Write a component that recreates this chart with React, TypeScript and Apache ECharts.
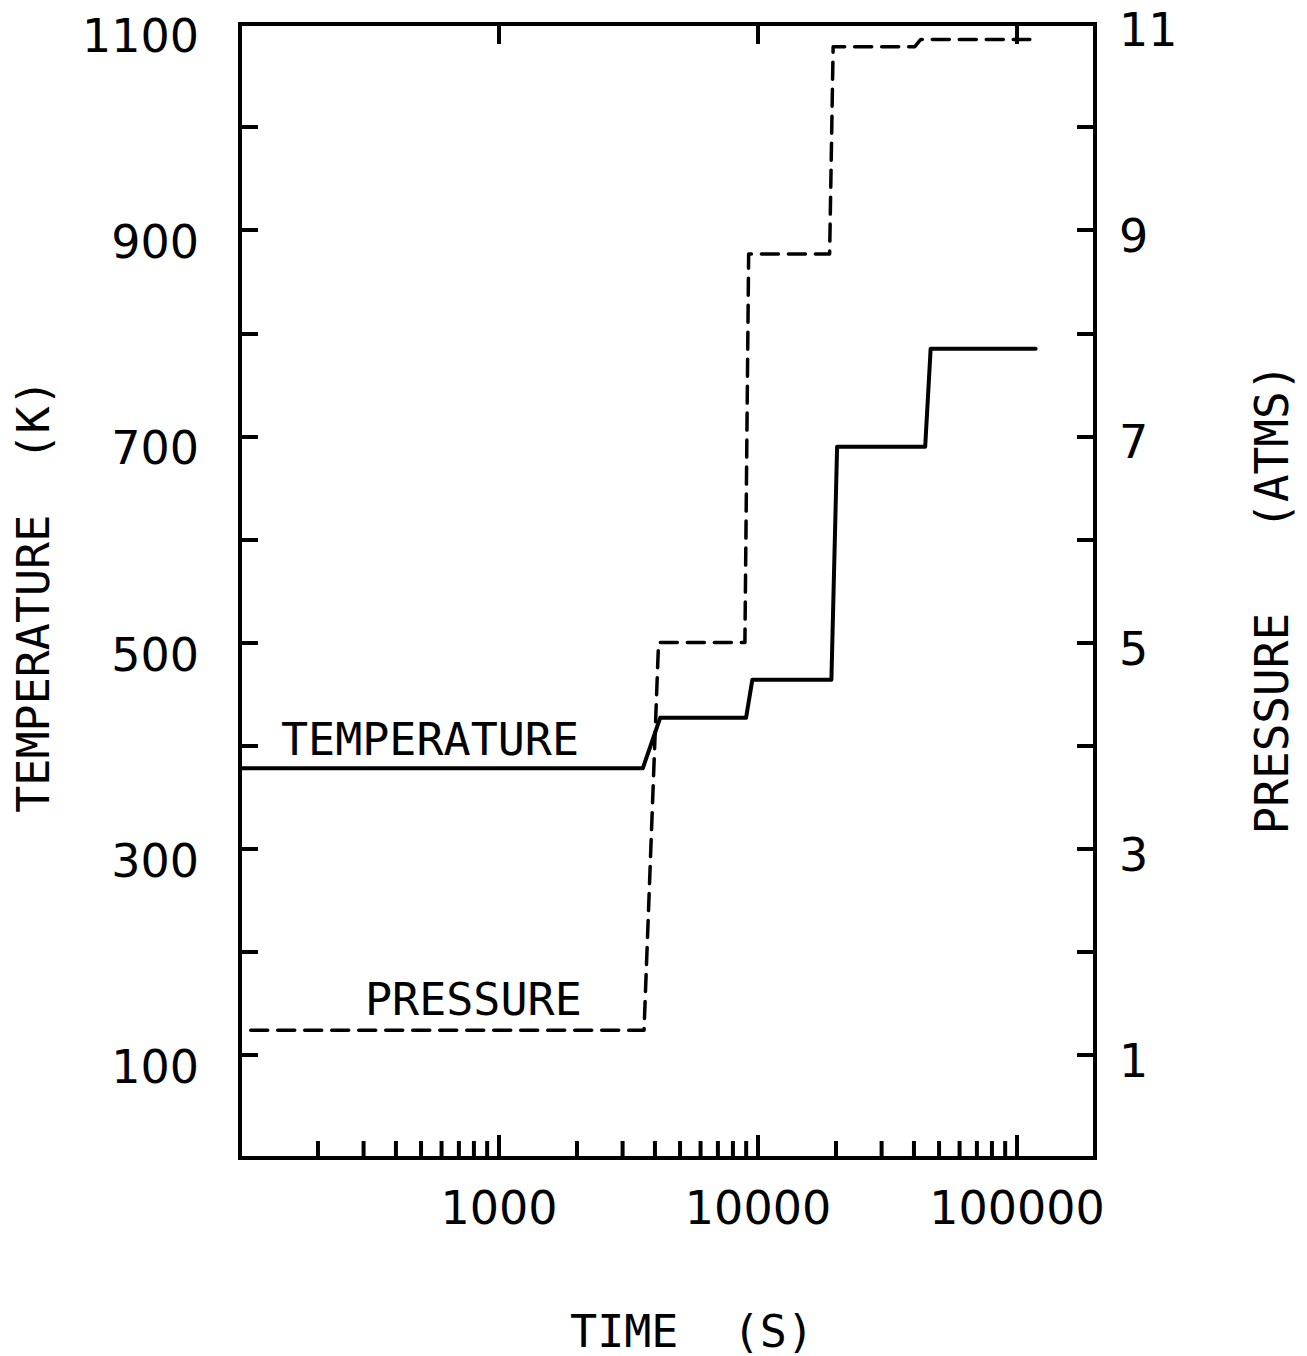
import React, { useEffect, useRef } from 'react';
import * as echarts from 'echarts';

// Temperature (K) vs time (s) — solid line, left axis
const TEMP_TIME = [100, 3590, 4190, 8990, 9510, 19200, 20200, 44200, 46400, 118000];
const TEMP_K = [378, 378, 427, 427, 464, 464, 690, 690, 785, 785];

// Pressure (atm) vs time (s) — dashed line, right axis
const PRES_TIME = [110, 3630, 4130, 8900, 9200, 18900, 19500, 40300, 42500, 112000];
const PRES_ATM = [1.24, 1.24, 5.0, 5.0, 8.77, 8.77, 10.78, 10.78, 10.85, 10.85];

// Axis ticks / labels
const X_LABELS = [1000, 10000, 100000];
const X_MAJOR_TICKS = [1000, 10000, 100000];
const X_MINOR_TICKS = [
  200, 300, 400, 500, 600, 700, 800, 900,
  2000, 3000, 4000, 5000, 6000, 7000, 8000, 9000,
  20000, 30000, 40000, 50000, 60000, 70000, 80000, 90000,
];
const T_LABELS = [100, 300, 500, 700, 900, 1100];
const P_LABELS = [1, 3, 5, 7, 9, 11];

const T_MIN = 0;
const T_MAX = 1100;

const DIGIT_FONT = 'DejaVu Sans';
const WORD_FONT = 'DejaVu Sans Mono';

export default function App() {
  const ref = useRef<HTMLDivElement>(null);

  useEffect(() => {
    const chart = echarts.init(ref.current!, null, { renderer: 'svg' });

    const tempData = TEMP_TIME.map((t, i) => [t, TEMP_K[i]]);
    const presData = PRES_TIME.map((t, i) => [t, PRES_ATM[i]]);
    // [time, kind]: kind 0 = bottom minor, 1 = bottom major, 2 = top major
    const tickData = [
      ...X_MINOR_TICKS.map((t) => [t, 0]),
      ...X_MAJOR_TICKS.map((t) => [t, 1]),
      ...X_MAJOR_TICKS.map((t) => [t, 2]),
    ];

    const axisLine = { show: true, onZero: false, lineStyle: { color: '#000', width: 4, cap: 'square' } };

    const option: any = {
      animation: false,
      backgroundColor: '#fff',
      grid: { left: 240, top: 24, width: 855, height: 1134 },
      xAxis: [
        {
          type: 'log',
          logBase: 10,
          min: 100,
          max: 200000,
          position: 'bottom',
          axisLine,
          axisTick: { show: false },
          splitLine: { show: false },
          axisLabel: {
            show: true,
            margin: 27,
            color: '#000',
            fontFamily: DIGIT_FONT,
            fontSize: 46,
            formatter: (v: number) => {
              const r = Math.round(v);
              return X_LABELS.includes(r) ? String(r) : '';
            },
          },
        },
        {
          type: 'log',
          logBase: 10,
          min: 100,
          max: 200000,
          position: 'top',
          axisLine,
          axisTick: { show: false },
          splitLine: { show: false },
          axisLabel: { show: false },
        },
      ],
      yAxis: [
        {
          type: 'value',
          min: T_MIN,
          max: T_MAX,
          interval: 100,
          position: 'left',
          axisLine,
          axisTick: { show: true, inside: true, length: 18, lineStyle: { color: '#000', width: 4 } },
          splitLine: { show: false },
          axisLabel: {
            margin: 41,
            color: '#000',
            fontFamily: DIGIT_FONT,
            fontSize: 46,
            verticalAlign: 'top',
            lineHeight: 24,
            formatter: (v: number) => (T_LABELS.includes(Math.round(v)) ? String(Math.round(v)) : ''),
          },
        },
        {
          type: 'value',
          min: 0,
          max: 11,
          interval: 1,
          position: 'right',
          axisLine,
          axisTick: { show: true, inside: true, length: 18, lineStyle: { color: '#000', width: 4 } },
          splitLine: { show: false },
          axisLabel: {
            margin: 24,
            color: '#000',
            fontFamily: DIGIT_FONT,
            fontSize: 46,
            verticalAlign: 'top',
            lineHeight: 12,
            formatter: (v: number) => (P_LABELS.includes(Math.round(v)) ? String(Math.round(v)) : ''),
          },
        },
      ],
      series: [
        {
          name: 'TEMPERATURE',
          type: 'line',
          xAxisIndex: 0,
          yAxisIndex: 0,
          data: tempData,
          symbol: 'none',
          lineStyle: { color: '#000', width: 4, cap: 'round', join: 'round' },
        },
        {
          name: 'PRESSURE',
          type: 'line',
          xAxisIndex: 0,
          yAxisIndex: 1,
          data: presData,
          symbol: 'none',
          lineStyle: { color: '#000', width: 3.5, type: [17, 10], cap: 'round', join: 'round' },
        },
        {
          name: 'xTicks',
          type: 'custom',
          xAxisIndex: 0,
          yAxisIndex: 0,
          data: tickData,
          clip: false,
          renderItem: (params: any, api: any) => {
            const kind = api.value(1);
            const t = api.value(0);
            if (kind === 2) {
              const p = api.coord([t, T_MAX]);
              return {
                type: 'line',
                shape: { x1: p[0], y1: p[1], x2: p[0], y2: p[1] + 20 },
                style: { stroke: '#000', lineWidth: 4 },
              };
            }
            const p = api.coord([t, T_MIN]);
            const len = kind === 1 ? 23 : 17;
            return {
              type: 'line',
              shape: { x1: p[0], y1: p[1], x2: p[0], y2: p[1] - len },
              style: { stroke: '#000', lineWidth: 4 },
            };
          },
        },
      ],
      graphic: [
        {
          type: 'text',
          x: 281,
          y: 739,
          style: {
            text: 'TEMPERATURE',
            font: `45px "${WORD_FONT}"`,
            fill: '#000',
            textAlign: 'left',
            textVerticalAlign: 'middle',
          },
        },
        {
          type: 'text',
          x: 365,
          y: 999,
          style: {
            text: 'PRESSURE',
            font: `45px "${WORD_FONT}"`,
            fill: '#000',
            textAlign: 'left',
            textVerticalAlign: 'middle',
          },
        },
        {
          type: 'text',
          x: 692,
          y: 1331,
          style: {
            text: 'TIME  (S)',
            font: `45px "${WORD_FONT}"`,
            fill: '#000',
            textAlign: 'center',
            textVerticalAlign: 'middle',
          },
        },
        {
          type: 'text',
          x: 33,
          y: 596,
          rotation: Math.PI / 2,
          style: {
            text: 'TEMPERATURE  (K)',
            font: `45px "${WORD_FONT}"`,
            fill: '#000',
            textAlign: 'center',
            textVerticalAlign: 'middle',
          },
        },
        {
          type: 'text',
          x: 1272,
          y: 599,
          rotation: Math.PI / 2,
          style: {
            text: 'PRESSURE   (ATMS)',
            font: `46px "${WORD_FONT}"`,
            fill: '#000',
            textAlign: 'center',
            textVerticalAlign: 'middle',
          },
        },
      ],
    };

    chart.setOption(option);
    return () => chart.dispose();
  }, []);

  return (
    <div
      ref={ref}
      style={{ position: 'absolute', left: 0, top: 0, width: 1307, height: 1356, background: '#fff' }}
    />
  );
}
